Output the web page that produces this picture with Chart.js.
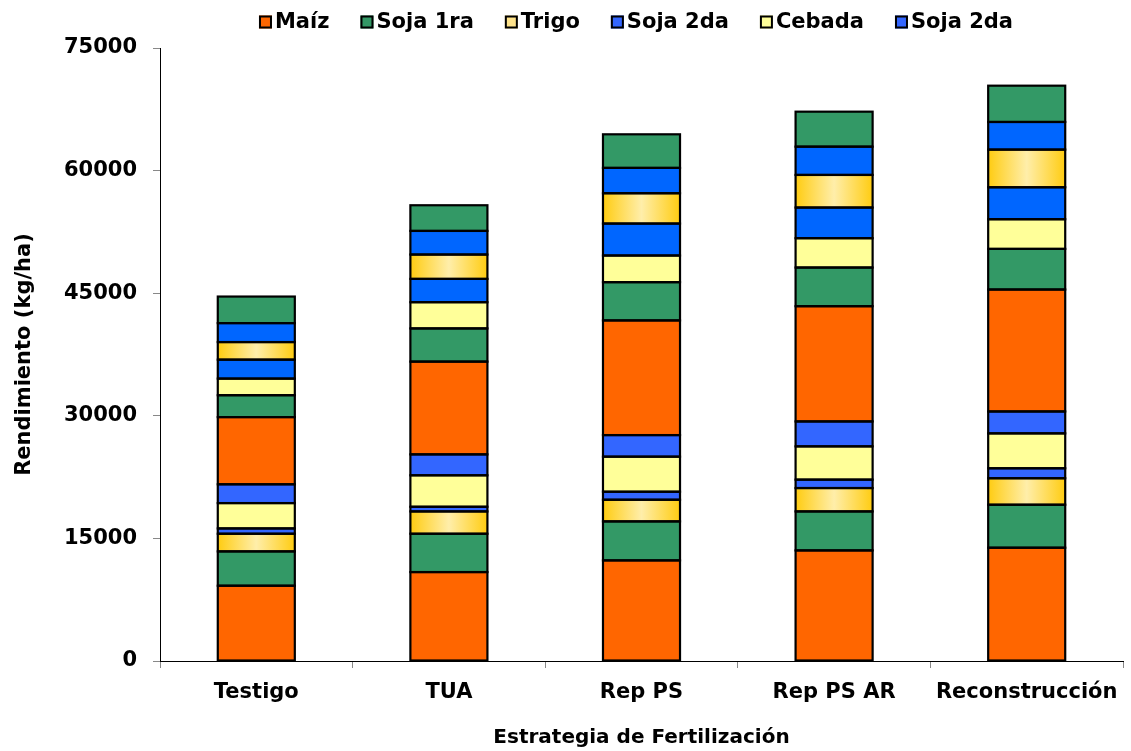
<!DOCTYPE html>
<html>
<head>
<meta charset="utf-8">
<script src="https://cdn.jsdelivr.net/npm/chart.js@4/dist/chart.umd.min.js"></script>
<style>
  html, body { margin: 0; padding: 0; background: #ffffff; }
  #wrap { width: 1131px; height: 751px; position: relative; }
</style>
</head>
<body>
<div id="wrap"><canvas id="chart"></canvas></div>
<script>
// Categories (fertilization strategies)
const categories = ['Testigo', 'TUA', 'Rep PS', 'Rep PS AR', 'Reconstrucción'];

// Yield of each crop in the rotation, stacked from the bottom (kg/ha)
const maiz1    = [9210, 10880, 12310, 13530, 13860];
const soja1ra1 = [4200, 4690, 4770, 4770, 5260];
const trigo1   = [2160, 2730, 2650, 2860, 3240];
const soja2da1 = [650, 570, 980, 1030, 1220];
const cebada1  = [3100, 3850, 4290, 4070, 4270];
const soja2da2 = [2300, 2560, 2640, 3050, 2680];
const maiz2    = [8220, 11350, 14030, 14100, 14920];
const soja1ra2 = [2680, 4060, 4680, 4730, 4970];
const cebada2  = [2030, 3210, 3260, 3590, 3630];
const soja2da3 = [2320, 2850, 3910, 3750, 3910];
const trigo2   = [2150, 2980, 3710, 3990, 4610];
const soja2da4 = [2320, 2890, 3100, 3460, 3380];
const soja1ra3 = [3250, 3140, 4110, 4280, 4440];

// Y axis ticks
const yTicks = [0, 15000, 30000, 45000, 60000, 75000];

const FONT = '"DejaVu Sans", "Liberation Sans", Arial, sans-serif';
const BAR_PCT = 0.4;

const ORANGE = '#FF6600';
const GREEN = '#339966';
const YELLOW = '#FFFF99';
const BLUE_LOW = '#3366FF';
const BLUE_HIGH = '#0066FF';
const TRIGO_FLAT = '#FFE38A';

// Wheat segments are filled with a horizontal golden gradient
function trigoFill(ctx) {
  const chart = ctx.chart;
  const xs = chart.scales && chart.scales.x;
  if (!xs || !chart.chartArea || ctx.type !== 'data') return TRIGO_FLAT;
  const cx = xs.getPixelForValue(ctx.dataIndex);
  const half = (xs.width / categories.length) * BAR_PCT / 2;
  const g = chart.ctx.createLinearGradient(cx - half, 0, cx + half, 0);
  g.addColorStop(0, '#FFCC11');
  g.addColorStop(0.5, '#FFEEAA');
  g.addColorStop(1, '#FFCC11');
  return g;
}

function series(label, data, color, legendColor) {
  return {
    label, data,
    backgroundColor: color,
    legendColor: legendColor || color,
    borderWidth: 0,
    inflateAmount: 0,
    barPercentage: BAR_PCT,
    categoryPercentage: 1.0
  };
}

const datasets = [
  series('Maíz', maiz1, ORANGE),
  series('Soja 1ra', soja1ra1, GREEN),
  series('Trigo', trigo1, trigoFill, TRIGO_FLAT),
  series('Soja 2da', soja2da1, BLUE_LOW),
  series('Cebada', cebada1, YELLOW),
  series('Soja 2da', soja2da2, BLUE_LOW),
  series('Maíz', maiz2, ORANGE),
  series('Soja 1ra', soja1ra2, GREEN),
  series('Cebada', cebada2, YELLOW),
  series('Soja 2da', soja2da3, BLUE_HIGH),
  series('Trigo', trigo2, trigoFill, TRIGO_FLAT),
  series('Soja 2da', soja2da4, BLUE_HIGH),
  series('Soja 1ra', soja1ra3, GREEN)
];

// Black outline around every stacked segment, centred on its edges
const segmentOutline = {
  id: 'segmentOutline',
  afterDatasetsDraw(chart) {
    const c = chart.ctx;
    c.save();
    c.strokeStyle = '#000000';
    c.lineWidth = 2.2;
    chart.data.datasets.forEach((d, i) => {
      const meta = chart.getDatasetMeta(i);
      meta.data.forEach(bar => {
        const p = bar.getProps(['x', 'y', 'base', 'width'], true);
        const top = Math.min(p.y, p.base);
        const h = Math.abs(p.base - p.y);
        c.strokeRect(p.x - p.width / 2, top, p.width, h);
      });
    });
    c.restore();
  }
};

// Legend row above the plot: one entry per crop of the first rotation cycle
const LEGEND_ENTRIES = 6;
const topLegend = {
  id: 'topLegend',
  afterDraw(chart) {
    const c = chart.ctx;
    const items = chart.data.datasets.slice(0, LEGEND_ENTRIES);
    c.save();
    c.font = 'bold 21px ' + FONT;
    c.textBaseline = 'middle';
    c.textAlign = 'left';
    const box = 13, gap = 3, spacing = 31, cy = 22, centerX = 636;
    const widths = items.map(d => c.measureText(d.label).width);
    const total = widths.reduce((s, w) => s + box + gap + w, 0) + spacing * (items.length - 1);
    let x = centerX - total / 2;
    items.forEach((d, i) => {
      c.fillStyle = d.legendColor;
      c.fillRect(x, cy - box / 2, box, box);
      c.lineWidth = 2;
      c.strokeStyle = '#000000';
      c.strokeRect(x + 1, cy - box / 2 + 1, box - 2, box - 2);
      c.fillStyle = '#000000';
      c.fillText(d.label, x + box + gap, cy + 1);
      x += box + gap + widths[i] + spacing;
    });
    c.restore();
  }
};

new Chart(document.getElementById('chart'), {
  type: 'bar',
  data: { labels: categories, datasets },
  plugins: [segmentOutline, topLegend],
  options: {
    responsive: true,
    maintainAspectRatio: false,
    animation: false,
    layout: { padding: { top: 48, right: 8, bottom: 0, left: 0 } },
    plugins: {
      legend: { display: false },
      tooltip: { enabled: false },
      title: { display: false }
    },
    scales: {
      x: {
        stacked: true,
        afterFit: s => { s.height = 90; },
        grid: { display: true, drawOnChartArea: false, drawTicks: true, tickLength: 7, color: '#888888', offset: true },
        border: { display: true, color: '#000000', width: 1 },
        ticks: { color: '#000000', padding: 12, font: { family: FONT, size: 21, weight: 'bold' }, maxRotation: 0, autoSkip: false },
        title: { display: true, text: 'Estrategia de Fertilización', color: '#000000', padding: { top: 4, bottom: 1 }, font: { family: FONT, size: 20, weight: 'bold', lineHeight: 1.2 } }
      },
      y: {
        stacked: true,
        min: 0,
        max: 75000,
        afterFit: s => { s.width = 160; },
        afterBuildTicks: s => { s.ticks = yTicks.map(v => ({ value: v })); },
        grid: { display: true, drawOnChartArea: false, drawTicks: true, tickLength: 7, color: '#888888' },
        border: { display: true, color: '#000000', width: 1 },
        ticks: { color: '#000000', padding: 16, font: { family: FONT, size: 21, weight: 'bold' }, callback: v => String(v) },
        title: { display: true, text: 'Rendimiento (kg/ha)', color: '#000000', padding: { top: 12, bottom: 0 }, font: { family: FONT, size: 21, weight: 'bold', lineHeight: 1.2 } }
      }
    }
  }
});
</script>
</body>
</html>
